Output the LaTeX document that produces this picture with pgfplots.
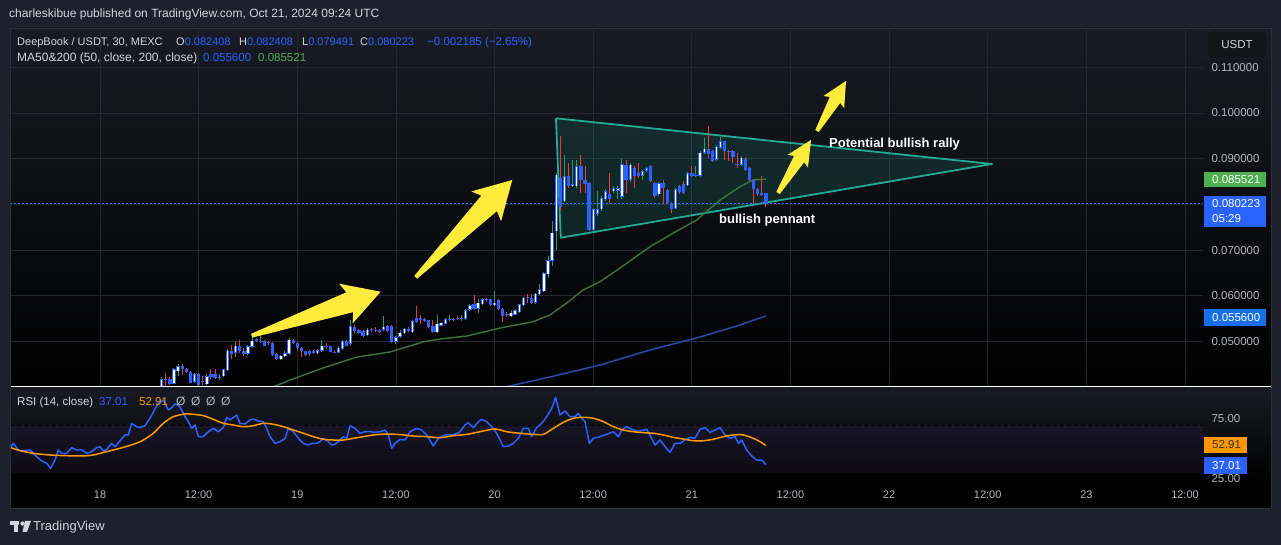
\documentclass[border=0pt]{standalone}
\usepackage{pgfplots}
\pgfplotsset{compat=1.18}
\usepackage{pgfplotstable}
\usepgfplotslibrary{fillbetween}
\usetikzlibrary{calc}
\usepackage{fontspec}
\setmainfont{Liberation Sans}

\definecolor{outerbg}{RGB}{30,33,43}
\definecolor{panetop}{RGB}{24,27,36}
\definecolor{gridc}{RGB}{36,39,49}
\definecolor{boxc}{RGB}{44,48,59}
\definecolor{labc}{RGB}{178,181,190}
\definecolor{txtc}{RGB}{209,212,220}
\definecolor{tvblue}{RGB}{41,98,255}
\definecolor{dotblue}{RGB}{50,110,255}
\definecolor{tvgreen}{RGB}{76,175,80}
\definecolor{wickup}{RGB}{22,160,110}
\definecolor{wickdn}{RGB}{242,54,69}
\definecolor{ma50c}{RGB}{56,118,60}
\definecolor{ma200c}{RGB}{34,76,170}
\definecolor{ma200box}{RGB}{22,110,232}
\definecolor{tealc}{RGB}{34,171,148}
\definecolor{tvyellow}{RGB}{255,235,59}
\definecolor{rsiorange}{RGB}{255,152,0}
\definecolor{bandc}{RGB}{126,87,194}
\definecolor{obgreen}{RGB}{40,110,50}

\newcommand{\fs}[1]{\fontsize{#1}{#1}\selectfont}

% 30 min candles, time in hours from 18 Oct 00:00
\pgfplotstableread{
t o h l c
7.5 0.0399 0.0422 0.0395 0.0417
8.0 0.0419 0.0430 0.0399 0.0415
8.5 0.0419 0.0422 0.0405 0.0408
9.0 0.0408 0.0442 0.0406 0.0439
9.5 0.0435 0.0451 0.0424 0.0446
10.0 0.0446 0.0450 0.0428 0.0439
10.5 0.0439 0.0442 0.0430 0.0433
11.0 0.0434 0.0436 0.0409 0.0410
11.5 0.0412 0.0432 0.0410 0.0428
12.0 0.0428 0.0430 0.0402 0.0404
12.5 0.0413 0.0425 0.0404 0.0411
13.0 0.0406 0.0428 0.0404 0.0424
13.5 0.0429 0.0439 0.0417 0.0423
14.0 0.0429 0.0439 0.0417 0.0421
14.5 0.0422 0.0428 0.0416 0.0423
15.0 0.0424 0.0440 0.0422 0.0439
15.5 0.0437 0.0483 0.0435 0.0480
16.0 0.0480 0.0492 0.0461 0.0472
16.5 0.0475 0.0502 0.0466 0.0491
17.0 0.0491 0.0504 0.0475 0.0479
17.5 0.0480 0.0485 0.0469 0.0472
18.0 0.0473 0.0493 0.0470 0.0490
18.5 0.0488 0.0515 0.0486 0.0502
19.0 0.0505 0.0507 0.0499 0.0501
19.5 0.0501 0.0515 0.0497 0.0502
20.0 0.0501 0.0503 0.0490 0.0491
20.5 0.0499 0.0501 0.0492 0.0496
21.0 0.0497 0.0498 0.0469 0.0470
21.5 0.0472 0.0475 0.0459 0.0461
22.0 0.0461 0.0471 0.0459 0.0469
22.5 0.0468 0.0480 0.0466 0.0474
23.0 0.0473 0.0508 0.0471 0.0504
23.5 0.0504 0.0506 0.0495 0.0497
24.0 0.0496 0.0498 0.0482 0.0485
24.5 0.0485 0.0488 0.0466 0.0479
25.0 0.0479 0.0480 0.0468 0.0470
25.5 0.0479 0.0482 0.0469 0.0472
26.0 0.0479 0.0481 0.0472 0.0474
26.5 0.0474 0.0483 0.0472 0.0481
27.0 0.0479 0.0504 0.0478 0.0491
27.5 0.0491 0.0496 0.0484 0.0489
28.0 0.0490 0.0491 0.0476 0.0477
28.5 0.0478 0.0480 0.0475 0.0477
29.0 0.0475 0.0490 0.0474 0.0486
29.5 0.0484 0.0503 0.0482 0.0501
30.0 0.0501 0.0503 0.0490 0.0491
30.5 0.0495 0.0548 0.0493 0.0534
31.0 0.0532 0.0536 0.0518 0.0523
31.5 0.0526 0.0528 0.0517 0.0519
32.0 0.0523 0.0525 0.0510 0.0513
32.5 0.0514 0.0529 0.0512 0.0526
33.0 0.0527 0.0530 0.0520 0.0525
33.5 0.0526 0.0532 0.0521 0.0523
34.0 0.0525 0.0528 0.0519 0.0521
34.5 0.0525 0.0555 0.0523 0.0532
35.0 0.0534 0.0536 0.0521 0.0523
35.5 0.0534 0.0536 0.0497 0.0499
36.0 0.0499 0.0513 0.0495 0.0510
36.5 0.0510 0.0526 0.0508 0.0519
37.0 0.0518 0.0530 0.0516 0.0528
37.5 0.0528 0.0531 0.0520 0.0522
38.0 0.0520 0.0546 0.0519 0.0544
38.5 0.0552 0.0577 0.0540 0.0542
39.0 0.0552 0.0559 0.0538 0.0548
39.5 0.0549 0.0551 0.0542 0.0544
40.0 0.0546 0.0548 0.0530 0.0532
40.5 0.0535 0.0546 0.0518 0.0520
41.0 0.0520 0.0559 0.0519 0.0539
41.5 0.0535 0.0543 0.0533 0.0541
42.0 0.0539 0.0551 0.0538 0.0549
42.5 0.0549 0.0557 0.0545 0.0550
43.0 0.0549 0.0552 0.0544 0.0549
43.5 0.0551 0.0555 0.0546 0.0550
44.0 0.0551 0.0559 0.0545 0.0552
44.5 0.0550 0.0572 0.0548 0.0569
45.0 0.0569 0.0581 0.0567 0.0579
45.5 0.0581 0.0601 0.0569 0.0571
46.0 0.0571 0.0592 0.0563 0.0585
46.5 0.0581 0.0595 0.0579 0.0593
47.0 0.0593 0.0596 0.0586 0.0590
47.5 0.0592 0.0594 0.0577 0.0579
48.0 0.0579 0.0610 0.0577 0.0585
48.5 0.0590 0.0592 0.0569 0.0571
49.0 0.0571 0.0573 0.0542 0.0555
49.5 0.0560 0.0565 0.0553 0.0558
50.0 0.0555 0.0568 0.0553 0.0563
50.5 0.0559 0.0572 0.0557 0.0569
51.0 0.0564 0.0583 0.0562 0.0581
51.5 0.0579 0.0598 0.0577 0.0596
52.0 0.0597 0.0603 0.0585 0.0595
52.5 0.0596 0.0603 0.0583 0.0585
53.0 0.0585 0.0607 0.0583 0.0605
53.5 0.0603 0.0625 0.0601 0.0614
54.0 0.0610 0.0652 0.0608 0.0649
54.5 0.0647 0.0687 0.0640 0.0678
55.0 0.0676 0.0763 0.0665 0.0738
55.5 0.0741 0.0868 0.0701 0.0865
56.0 0.0858 0.0950 0.0785 0.0795
56.5 0.0807 0.0908 0.0805 0.0862
57.0 0.0862 0.0891 0.0836 0.0840
57.5 0.0840 0.0898 0.0838 0.0844
58.0 0.0840 0.0898 0.0836 0.0884
58.5 0.0884 0.0909 0.0825 0.0854
59.0 0.0853 0.0884 0.0825 0.0844
59.5 0.0847 0.0850 0.0741 0.0745
60.0 0.0745 0.0793 0.0740 0.0790
60.5 0.0780 0.0829 0.0774 0.0790
61.0 0.0789 0.0818 0.0786 0.0814
61.5 0.0811 0.0833 0.0807 0.0829
62.0 0.0822 0.0869 0.0803 0.0811
62.5 0.0829 0.0840 0.0825 0.0836
63.0 0.0830 0.0840 0.0811 0.0836
63.5 0.0816 0.0900 0.0812 0.0888
64.0 0.0887 0.0898 0.0825 0.0854
64.5 0.0854 0.0890 0.0850 0.0887
65.0 0.0880 0.0884 0.0836 0.0862
65.5 0.0869 0.0891 0.0858 0.0862
66.0 0.0863 0.0876 0.0854 0.0873
66.5 0.0873 0.0882 0.0870 0.0879
67.0 0.0884 0.0886 0.0849 0.0851
67.5 0.0847 0.0850 0.0815 0.0818
68.0 0.0822 0.0850 0.0818 0.0847
68.5 0.0847 0.0854 0.0800 0.0836
69.0 0.0832 0.0834 0.0800 0.0803
69.5 0.0803 0.0806 0.0782 0.0789
70.0 0.0791 0.0836 0.0789 0.0833
70.5 0.0840 0.0843 0.0823 0.0827
71.0 0.0844 0.0851 0.0822 0.0825
71.5 0.0842 0.0871 0.0840 0.0868
72.0 0.0868 0.0884 0.0860 0.0862
72.5 0.0862 0.0884 0.0860 0.0865
73.0 0.0863 0.0916 0.0860 0.0913
73.5 0.0913 0.0946 0.0910 0.0922
74.0 0.0922 0.0971 0.0902 0.0911
74.5 0.0916 0.0919 0.0892 0.0895
75.0 0.0898 0.0929 0.0896 0.0926
75.5 0.0924 0.0948 0.0922 0.0938
76.0 0.0938 0.0939 0.0898 0.0916
76.5 0.0917 0.0919 0.0895 0.0915
77.0 0.0916 0.0918 0.0891 0.0904
77.5 0.0888 0.0913 0.0880 0.0886
78.0 0.0887 0.0905 0.0884 0.0902
78.5 0.0900 0.0903 0.0873 0.0876
79.0 0.0880 0.0882 0.0851 0.0854
79.5 0.0854 0.0856 0.0800 0.0833
80.0 0.0833 0.0835 0.0819 0.0822
80.5 0.0824 0.0863 0.0818 0.0820
81.0 0.082408 0.082408 0.079491 0.080223
}\candles

\pgfplotstableread{
t p
19.46 0.03895
21.05 0.04004
23.11 0.04158
27.13 0.04420
31.27 0.04661
35.28 0.04770
39.29 0.04989
41.36 0.05055
44.65 0.05120
48.66 0.05295
52.68 0.05433
54.74 0.05580
56.78 0.05842
58.76 0.06127
60.83 0.06309
63.26 0.06608
66.91 0.07074
69.95 0.07396
72.59 0.07659
75.43 0.08096
77.86 0.08387
79.44 0.08534
81.00 0.085521
}\maA

\pgfplotstableread{
t p
46.23 0.03873
49.27 0.04004
54.74 0.04223
60.83 0.04486
66.91 0.04814
72.99 0.05098
77.86 0.05361
81.00 0.055600
}\maB

\pgfplotstableread{
t r
-10.95 50.6
-10.54 54.7
-9.94 49.2
-9.33 48.3
-8.52 49.2
-7.70 43.6
-7.10 40.0
-6.49 38.1
-6.00 33.9
-5.47 40.8
-5.07 49.2
-4.66 46.4
-4.06 46.4
-3.45 51.1
-2.84 49.2
-2.23 49.2
-1.62 46.4
-1.01 47.8
-0.41 51.1
0.00 51.9
0.41 48.3
0.81 49.7
1.42 54.7
1.82 51.9
2.43 56.7
3.04 61.7
3.45 61.7
3.85 71.4
4.46 68.6
4.87 67.8
5.47 69.4
6.08 75.6
6.69 83.3
7.10 88.1
7.70 90.8
8.31 82.5
8.72 84.4
9.12 87.5
9.53 86.7
9.94 82.5
10.34 76.9
10.75 72.8
11.15 67.2
11.56 70.0
11.96 60.3
12.57 60.3
13.18 64.4
13.79 67.2
14.40 64.4
15.00 67.8
15.41 76.4
15.82 74.2
16.22 76.1
16.63 78.3
17.03 71.4
17.64 70.8
18.25 74.2
18.65 75.0
19.26 73.3
19.87 72.8
20.28 67.2
20.68 60.3
21.29 54.7
21.90 56.1
22.51 58.9
22.91 67.2
23.52 64.4
24.13 58.9
24.74 54.7
25.35 53.3
25.75 54.7
26.36 54.7
26.76 56.1
27.17 58.9
27.78 56.1
28.18 53.3
28.59 53.9
29.20 57.5
29.60 60.3
30.01 58.9
30.41 69.4
31.02 67.2
31.63 63.1
32.24 64.4
32.85 64.4
33.45 63.9
34.06 64.4
34.67 65.8
35.08 61.7
35.48 50.6
35.89 54.7
36.50 58.0
37.11 57.5
37.71 64.4
38.52 67.2
39.13 65.8
39.74 61.7
40.55 52.5
41.16 58.9
41.97 61.7
42.98 61.7
43.80 64.4
44.40 70.0
44.81 71.9
45.42 67.8
46.03 72.8
46.43 74.7
47.04 72.8
47.65 68.6
48.26 63.1
49.07 51.9
49.68 52.5
50.28 54.7
50.89 58.9
51.50 67.2
52.11 67.2
52.51 60.3
53.12 67.8
53.73 71.4
54.34 76.9
54.95 83.9
55.43 93.1
55.96 78.3
56.57 81.7
57.18 76.9
57.79 76.9
58.19 79.7
58.60 75.6
59.00 72.8
59.53 54.7
60.02 58.9
60.83 60.3
61.64 62.2
62.45 64.4
63.06 60.3
63.46 65.8
64.07 68.6
64.88 65.8
65.69 65.0
66.50 66.4
67.11 58.9
67.52 53.3
68.13 57.5
68.74 51.9
69.34 47.2
69.95 54.7
70.56 54.7
71.17 57.5
71.78 59.7
72.38 58.9
72.99 66.4
73.60 67.8
74.21 63.9
74.82 65.8
75.43 67.8
76.03 61.7
76.64 58.9
77.25 60.3
77.66 54.7
78.06 57.5
78.67 49.2
79.28 44.2
79.89 40.8
80.50 40.8
81.00 37.01
}\rsi

\pgfplotstableread{
t r
-10.95 51.4
-9.73 48.6
-8.11 46.4
-6.08 45.0
-4.06 44.4
-2.03 44.2
-0.81 45.0
0.81 47.8
2.43 50.6
4.06 53.9
5.27 57.5
6.49 63.1
7.70 71.4
8.92 76.9
10.34 79.2
11.35 78.9
12.57 77.8
13.79 74.7
15.00 71.4
16.22 70.0
17.44 68.6
18.65 69.4
19.87 71.4
21.09 70.6
22.30 68.6
23.52 65.8
24.74 63.1
25.95 60.3
27.17 58.1
28.39 57.5
29.60 57.5
30.82 58.9
32.04 60.3
33.25 61.7
34.87 62.5
36.50 62.0
38.12 60.8
39.74 60.3
41.36 59.4
42.98 61.1
44.61 62.2
46.23 64.4
48.05 66.7
49.47 64.4
51.09 63.1
52.72 62.2
53.93 62.2
55.15 67.2
56.37 72.2
57.58 75.6
58.80 76.4
60.02 75.6
61.23 72.8
62.45 68.6
63.67 65.8
64.88 64.4
66.10 63.6
67.31 63.1
68.53 61.7
69.75 59.7
70.97 58.3
72.18 56.9
73.40 56.9
74.62 58.1
75.84 60.3
77.05 61.7
78.26 61.7
79.48 58.9
80.29 56.1
81.00 52.91
}\rsima

% drawing arrow: tail, tip, notch position, notch half width, barb position, barb half width
\newcommand{\yarrow}[6]{%
  \coordinate (T) at #1; \coordinate (P) at #2;
  \coordinate (N) at ($(T)!#3!(P)$);
  \coordinate (B) at ($(T)!#5!(P)$);
  \fill[tvyellow] ($(T)!2pt!90:(P)$) -- ($(N)!#4!90:(P)$) -- ($(B)!#6!90:(P)$)
    -- (P) -- ($(B)!#6!-90:(P)$) -- ($(N)!#4!-90:(P)$) -- ($(T)!2pt!-90:(P)$) -- cycle;}

\begin{document}
\begin{tikzpicture}[x=1pt,y=1pt]
\fill[outerbg] (0,0) rectangle (1281,545);
\shade[top color=panetop, bottom color=black] (10,159) rectangle (1271,517);
\shade[top color=panetop, bottom color=black] (10,63) rectangle (1271,158);
\fill[black] (10,37) rectangle (1271,63);

% price pane
\begin{axis}[
  at={(10pt,159pt)}, anchor=south west, scale only axis,
  width=1193pt, height=356pt,
  xmin=-10.949, xmax=134.18, ymin=0.040263, ymax=0.118162,
  axis line style={draw=none}, tick style={draw=none},
  xtick={0,12,...,132}, xticklabel=\empty,
  ytick={0.05,0.06,0.07,0.08,0.09,0.1,0.11},
  yticklabel pos=right, scaled y ticks=false,
  /pgf/number format/assume math mode=true,
  yticklabel style={text=labc, font=\fs{11.5}, anchor=west, xshift=5pt,
    /pgf/number format/fixed, /pgf/number format/fixed zerofill,
    /pgf/number format/precision=6},
  grid=major, grid style={gridc, line width=0.8pt},
]
\addplot[fill=tealc, fill opacity=0.16, draw=tealc, line width=1.8pt, line join=round]
  coordinates {(55.47,0.09884) (56.05,0.07271) (108.52,0.08884) (55.47,0.09884)};
\addplot[ma50c, line width=1.4pt] table[x=t, y=p] {\maA};
\addplot[ma200c, line width=1.5pt] table[x=t, y=p] {\maB};
\addplot[dotblue, line width=1.5pt, dash pattern=on 1.6pt off 2.4pt]
  coordinates {(-10.949,0.080223) (134.18,0.080223)};
% wicks
\addplot[draw=none, mark=none, restrict expr to domain={\thisrow{c}-\thisrow{o}}{0:1},
  error bars/.cd, y dir=minus, y explicit, error mark=none,
  error bar style={draw=wickup, line width=1pt}]
  table[x=t, y=h, y error minus expr=\thisrow{h}-\thisrow{l}] {\candles};
\addplot[draw=none, mark=none, restrict expr to domain={\thisrow{c}-\thisrow{o}}{-1:-0.0000001},
  error bars/.cd, y dir=minus, y explicit, error mark=none,
  error bar style={draw=wickdn, line width=1pt}]
  table[x=t, y=h, y error minus expr=\thisrow{h}-\thisrow{l}] {\candles};
% bodies
\addplot[draw=none, mark=none,
  error bars/.cd, y dir=minus, y explicit, error mark=none,
  error bar style={draw=tvblue, line width=3.3pt}]
  table[x=t, y expr={max(\thisrow{o},\thisrow{c})},
    y error minus expr={max(abs(\thisrow{c}-\thisrow{o}),0.00018)}] {\candles};
\addplot[draw=none, mark=none, restrict expr to domain={\thisrow{c}-\thisrow{o}}{0.0004:1},
  error bars/.cd, y dir=minus, y explicit, error mark=none,
  error bar style={draw=white, line width=1.3pt}]
  table[x=t, y expr={\thisrow{c}-0.00013},
    y error minus expr={\thisrow{c}-\thisrow{o}-0.00026}] {\candles};
\end{axis}

% RSI pane
\begin{axis}[
  at={(10pt,63pt)}, anchor=south west, scale only axis,
  width=1193pt, height=95pt,
  xmin=-10.949, xmax=134.18, ymin=22.5, ymax=101.67,
  axis line style={draw=none}, tick style={draw=none},
  xtick={0,12,...,132}, xticklabel=\empty,
  ytick={25,75},
  yticklabel pos=right,
  /pgf/number format/assume math mode=true,
  yticklabel style={text=labc, font=\fs{11.5}, anchor=west, xshift=5pt,
    /pgf/number format/fixed, /pgf/number format/fixed zerofill,
    /pgf/number format/precision=2},
  grid=major, grid style={gridc, line width=0.8pt},
]
\addplot[draw=none, fill=bandc, fill opacity=0.09]
  coordinates {(-10.949,30) (134.18,30) (134.18,70) (-10.949,70)};
\addplot[black, line width=0.9pt, dash pattern=on 4pt off 3pt]
  coordinates {(-10.949,70) (134.18,70)};
\addplot[black!60!gridc, line width=0.8pt, dash pattern=on 4pt off 3pt]
  coordinates {(-10.949,50) (134.18,50)};
\addplot[black, line width=0.8pt, dash pattern=on 4pt off 3pt]
  coordinates {(-10.949,30) (134.18,30)};
\addplot[name path=seventy, draw=none] coordinates {(-10.949,70) (134.18,70)};
\addplot[name path=rsiline, tvblue, line width=1.5pt, line join=round] table[x=t, y=r] {\rsi};
\addplot[obgreen, fill opacity=0.75] fill between[of=rsiline and seventy,
  soft clip={(axis cs:-10.949,70) rectangle (axis cs:134.18,101.67)}];
\addplot[rsiorange, line width=1.5pt, smooth] table[x=t, y=r] {\rsima};
\end{axis}

% time scale strip
\fill[black] (10,37) rectangle (1271,63.2);
\draw[white, line width=1.3pt] (10,158.3) -- (1271,158.3);
\draw[boxc, line width=0.8pt] (10,37) rectangle (1271,517);

\begin{scope}[shift={(0,545)}, yscale=-1]
% time labels
\foreach \x/\lab in {100/18, 198.6/12:00, 297.3/19, 395.9/12:00, 494.6/20, 593.2/12:00,
  691.8/21, 790.4/12:00, 889.1/22, 987.7/12:00, 1086.4/23, 1185/12:00}
  \node[anchor=base, text=labc, inner sep=0] at (\x,499) {\fs{11}\lab};

% arrows
\yarrow{(251.7,335.7)}{(380.7,291.7)}{0.76}{10.5pt}{0.73}{21pt}
\yarrow{(415.7,277.3)}{(512.3,180)}{0.76}{11pt}{0.73}{21pt}
\yarrow{(778,193)}{(811,140)}{0.64}{6pt}{0.60}{12pt}
\yarrow{(817,131)}{(846,81)}{0.62}{6pt}{0.58}{12pt}

% annotations
\node[anchor=base west, text=white, inner sep=0] at (829,147.5) {\fs{13}\bfseries Potential bullish rally};
\node[anchor=base west, text=white, inner sep=0] at (719,223.5) {\fs{13}\bfseries bullish pennant};

% header
\node[anchor=base west, text=txtc, inner sep=0] at (9,18) {\fs{12}charleskibue published on TradingView.com, Oct 21, 2024 09:24 UTC};
\node[anchor=base west, text=txtc, inner sep=0] at (17,46) {\fs{11}DeepBook / USDT, 30, MEXC};
\node[anchor=base west, text=txtc, inner sep=0] at (176,46) {\fs{11}O\textcolor{tvblue}{0.082408}};
\node[anchor=base west, text=txtc, inner sep=0] at (239,46) {\fs{11}H\textcolor{tvblue}{0.082408}};
\node[anchor=base west, text=txtc, inner sep=0] at (302,46) {\fs{11}L\textcolor{tvblue}{0.079491}};
\node[anchor=base west, text=txtc, inner sep=0] at (360,46) {\fs{11}C\textcolor{tvblue}{0.080223}};
\node[anchor=base west, text=tvblue, inner sep=0] at (427,46) {\fs{11.5}−0.002185 (−2.65\%)};
\node[anchor=base west, text=txtc, inner sep=0] at (17,62) {\fs{12}MA50\&200 (50, close, 200, close)};
\node[anchor=base west, text=tvblue, inner sep=0] at (203,62) {\fs{11.5}0.055600};
\node[anchor=base west, text=tvgreen, inner sep=0] at (258,62) {\fs{11.5}0.085521};

% RSI legend
\node[anchor=base west, text=txtc, inner sep=0] at (17,406) {\fs{11.5}RSI (14, close)};
\node[anchor=base west, text=tvblue, inner sep=0] at (99,406) {\fs{11.5}37.01};
\node[anchor=base west, text=rsiorange, inner sep=0] at (139,406) {\fs{11.5}52.91};
\foreach \x in {176,191,206,221}
  \node[anchor=base west, text=labc, inner sep=0] at (\x,406) {\fs{12}Ø};

% price scale boxes
\draw[boxc, fill=black!40!outerbg, rounded corners=3pt] (1207,31) rectangle (1267,58);
\node[text=txtc, inner sep=0] at (1237,45) {\fs{11.5}USDT};
\fill[tvgreen] (1204,172) rectangle (1266,187.5);
\node[anchor=base west, text=white, inner sep=0] at (1212,184) {\fs{11.5}0.085521};
\fill[tvblue] (1204,196) rectangle (1266,227);
\node[anchor=base west, text=white, inner sep=0] at (1212,208) {\fs{11.5}0.080223};
\node[anchor=base west, text=white, inner sep=0] at (1212,223) {\fs{11.5}05:29};
\fill[ma200box] (1204,309.5) rectangle (1266,326);
\node[anchor=base west, text=white, inner sep=0] at (1212,322) {\fs{11.5}0.055600};
\fill[rsiorange] (1204,437) rectangle (1247,453);
\node[anchor=base west, text=black!80, inner sep=0] at (1212,449) {\fs{11.5}52.91};
\fill[tvblue] (1204,457) rectangle (1247,474);
\node[anchor=base west, text=white, inner sep=0] at (1212,469.5) {\fs{11.5}37.01};

% TradingView logo
\fill[txtc] (10,521) rectangle (19,525);
\fill[txtc] (14,521) rectangle (18,532);
\fill[txtc] (22.5,523.5) circle (2.2);
\fill[txtc] (25,521) -- (31,521) -- (27,532) -- (22.5,532) -- cycle;
\node[anchor=base west, text=txtc, inner sep=0] at (33,531) {\fs{13}TradingView};
\end{scope}
\end{tikzpicture}
\end{document}
